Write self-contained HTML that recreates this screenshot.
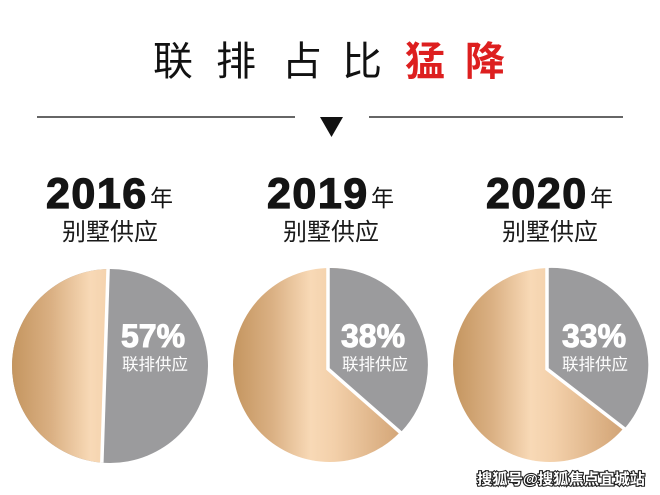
<!DOCTYPE html>
<html>
<head>
<meta charset="utf-8">
<style>
  html, body { margin:0; padding:0; background:#fff; }
  body { width:660px; height:495px; overflow:hidden; }
  svg { display:block; }
  .cjk { font-family: "Liberation Sans", "Noto Sans CJK SC", sans-serif; }
</style>
</head>
<body>
<svg width="660" height="495" viewBox="0 0 660 495" xmlns="http://www.w3.org/2000/svg">
  <defs>
    <linearGradient id="gold" x1="0" y1="0" x2="1" y2="0">
      <stop offset="0" stop-color="#c4955f"/>
      <stop offset="0.2" stop-color="#dab083"/>
      <stop offset="0.4" stop-color="#f8d9b6"/>
      <stop offset="0.52" stop-color="#f3d0aa"/>
      <stop offset="0.8" stop-color="#d9ad80"/>
      <stop offset="1" stop-color="#c4966a"/>
    </linearGradient>
    <linearGradient id="gold1" gradientUnits="userSpaceOnUse" x1="12" y1="0" x2="208" y2="0">
      <stop offset="0" stop-color="#c4955f"/>
      <stop offset="0.2" stop-color="#dab083"/>
      <stop offset="0.4" stop-color="#f8d9b6"/>
      <stop offset="0.52" stop-color="#f3d0aa"/>
      <stop offset="0.8" stop-color="#d9ad80"/>
      <stop offset="1" stop-color="#c4966a"/>
    </linearGradient>
    <clipPath id="clip1">
      <ellipse cx="110" cy="366" rx="98" ry="97"/>
    </clipPath>
  </defs>
  <rect width="660" height="495" fill="#fff"/>

  <!-- Title -->
  <g class="cjk" font-size="40" fill="#111">
    <text x="153" y="75">联</text>
    <text x="216" y="75">排</text>
    <text x="282" y="75">占</text>
    <text x="342" y="75">比</text>
  </g>
  <g class="cjk" font-size="40" font-weight="bold" fill="#dd1f1f">
    <text x="405" y="75">猛</text>
    <text x="465" y="75">降</text>
  </g>

  <!-- Divider lines & triangle -->
  <line x1="37" y1="117" x2="295" y2="117" stroke="#333" stroke-width="1.5"/>
  <line x1="369" y1="117" x2="623" y2="117" stroke="#333" stroke-width="1.5"/>
  <polygon points="320,117 343,117 331.5,137" fill="#111"/>

  <!-- Year headers -->
  <g font-family="Liberation Sans, sans-serif" font-weight="bold" font-size="43" fill="#141414" stroke="#141414" stroke-width="1.2" letter-spacing="1.5">
    <text x="46" y="208">2016</text>
    <text x="267" y="208">2019</text>
    <text x="486" y="208">2020</text>
  </g>
  <g class="cjk" font-size="23" fill="#141414">
    <text x="150" y="206">年</text>
    <text x="371" y="206">年</text>
    <text x="590" y="206">年</text>
  </g>
  <g class="cjk" font-size="24" fill="#1a1a1a">
    <text x="62" y="240">别墅供应</text>
    <text x="283" y="240">别墅供应</text>
    <text x="502" y="240">别墅供应</text>
  </g>

  <!-- Pie 1 -->
  <ellipse cx="110" cy="366" rx="98" ry="97" fill="#9b9b9d"/>
  <polygon points="0,260 108.3,260 101.8,470 0,470" fill="url(#gold1)" clip-path="url(#clip1)"/>
  <line x1="108.3" y1="262" x2="101.6" y2="470" stroke="#fff" stroke-width="3.5" clip-path="url(#clip1)"/>

  <!-- Pie 2 -->
  <ellipse cx="330" cy="365" rx="97" ry="97" fill="url(#gold)"/>
  <path d="M328,268 A97,97 0 0 1 401,432 L328,369 Z" fill="#9b9b9d"/>
  <polyline points="328,267 328,369 401,433" fill="none" stroke="#fff" stroke-width="3.5"/>

  <!-- Pie 3 -->
  <ellipse cx="550" cy="365" rx="97" ry="97" fill="url(#gold)"/>
  <path d="M547,268 A97,97 0 0 1 625,428 L547,369 Z" fill="#9b9b9d"/>
  <polyline points="547,267 547,369 626,430" fill="none" stroke="#fff" stroke-width="3.5"/>

  <!-- Pie labels -->
  <g font-family="Liberation Sans, sans-serif" font-weight="bold" font-size="32" fill="#fff" stroke="#fff" stroke-width="1">
    <text x="121" y="347">57%</text>
    <text x="341" y="347">38%</text>
    <text x="562" y="347">33%</text>
  </g>
  <g class="cjk" font-size="16.5" fill="#fff">
    <text x="122" y="370">联排供应</text>
    <text x="342" y="370">联排供应</text>
    <text x="562" y="370">联排供应</text>
  </g>

  <!-- Watermark -->
  <text class="cjk" x="477" y="484" font-size="15" font-weight="bold" fill="#fff" stroke="#222" stroke-width="2.2" paint-order="stroke" textLength="168" lengthAdjust="spacingAndGlyphs">搜狐号@搜狐焦点宜城站</text>
</svg>
</body>
</html>
